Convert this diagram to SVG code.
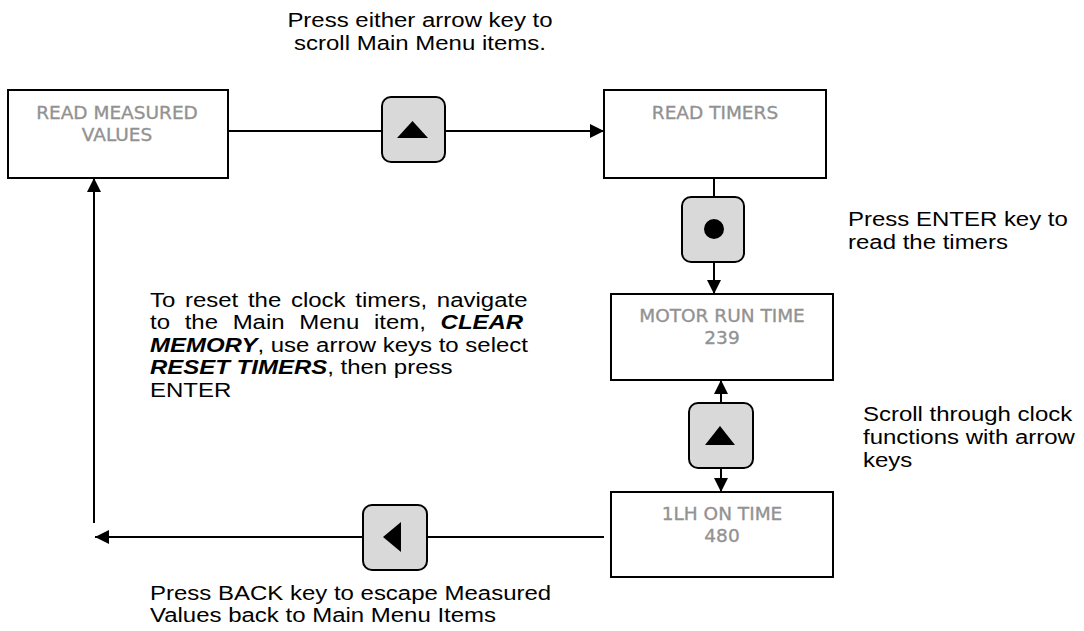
<svg xmlns="http://www.w3.org/2000/svg" width="1084" height="631" viewBox="0 0 1084 631">
<style>
.box{fill:#fff;stroke:#000;stroke-width:2}
.btn{fill:#d9d9d9;stroke:#000;stroke-width:2}
.lbl{font-family:"DejaVu Sans",Verdana,sans-serif;font-size:18.5px;fill:#929292;stroke:#929292;stroke-width:0.35;text-anchor:middle}
.note{font-family:"Liberation Sans",Arial,sans-serif;font-size:24px;fill:#000}
.bi{font-weight:bold;font-style:italic}
.ln{fill:none;stroke:#000;stroke-width:2}
</style>
<defs>
<marker id="ah" viewBox="0 0 14 14" refX="14" refY="7" markerWidth="14" markerHeight="14" markerUnits="userSpaceOnUse" orient="auto">
<path d="M0,0 L14,7 L0,14 z" fill="#000"/>
</marker>
</defs>
<g id="connectors">
<line class="ln" x1="228" y1="131" x2="382" y2="131"/>
<line class="ln" x1="445" y1="131" x2="604" y2="131" marker-end="url(#ah)"/>
<line class="ln" x1="714" y1="178" x2="714" y2="197"/>
<line class="ln" x1="714" y1="262" x2="714" y2="294" marker-end="url(#ah)"/>
<line class="ln" x1="721" y1="403" x2="721" y2="380" marker-end="url(#ah)"/>
<line class="ln" x1="721" y1="468" x2="721" y2="492" marker-end="url(#ah)"/>
<line class="ln" x1="604" y1="537" x2="427" y2="537"/>
<line class="ln" x1="363" y1="537" x2="95" y2="537" marker-end="url(#ah)"/>
<line class="ln" x1="94" y1="523" x2="94" y2="178" marker-end="url(#ah)"/>
</g>
<g id="read-measured">
<rect class="box" x="8" y="90" width="220" height="88"/>
<text class="lbl" x="117" y="119">READ MEASURED</text>
<text class="lbl" x="117" y="141">VALUES</text>
</g>
<g id="read-timers">
<rect class="box" x="604" y="90" width="222" height="88"/>
<text class="lbl" x="715" y="119">READ TIMERS</text>
</g>
<g id="motor-run">
<rect class="box" x="611" y="294" width="222" height="86"/>
<text class="lbl" x="722" y="322">MOTOR RUN TIME</text>
<text class="lbl" x="722" y="344">239</text>
</g>
<g id="lh-on">
<rect class="box" x="611" y="492" width="222" height="85"/>
<text class="lbl" x="722" y="520">1LH ON TIME</text>
<text class="lbl" x="722" y="542">480</text>
</g>
<g id="btn-up-top">
<rect class="btn" x="382" y="97" width="63" height="65" rx="9"/>
<polygon points="397,138 428,138 412.5,121" fill="#000"/>
</g>
<g id="btn-enter">
<rect class="btn" x="682" y="197" width="62" height="65" rx="9"/>
<circle cx="714" cy="229" r="10" fill="#000"/>
</g>
<g id="btn-updown">
<rect class="btn" x="689" y="403" width="64" height="65" rx="9"/>
<polygon points="705,445 735,445 720,426" fill="#000"/>
</g>
<g id="btn-back">
<rect class="btn" x="363" y="505" width="64" height="65" rx="9"/>
<polygon points="383,537 401,522 401,552" fill="#000"/>
</g>
<g id="notes" transform="scale(1,0.875)">
<text class="note" x="420" y="30.86" text-anchor="middle">Press either arrow key to</text>
<text class="note" x="420" y="57.14" text-anchor="middle">scroll Main Menu items.</text>
<text class="note" x="848" y="258.29">Press ENTER key to</text>
<text class="note" x="848" y="284.57">read the timers</text>
<text class="note" x="863" y="481.14">Scroll through clock</text>
<text class="note" x="863" y="507.43">functions with arrow</text>
<text class="note" x="863" y="533.71">keys</text>
<text class="note" x="150" y="350.86" word-spacing="3">To reset the clock timers, navigate</text>
<text class="note" x="150" y="376.57" word-spacing="8">to the Main Menu item, <tspan class="bi">CLEAR</tspan></text>
<text class="note" x="150" y="402.29"><tspan class="bi">MEMORY</tspan>, use arrow keys to select</text>
<text class="note" x="150" y="428"><tspan class="bi">RESET TIMERS</tspan>, then press</text>
<text class="note" x="150" y="453.71">ENTER</text>
<text class="note" x="150" y="685.71">Press BACK key to escape Measured</text>
<text class="note" x="150" y="711.43">Values back to Main Menu Items</text>
</g>
</svg>
